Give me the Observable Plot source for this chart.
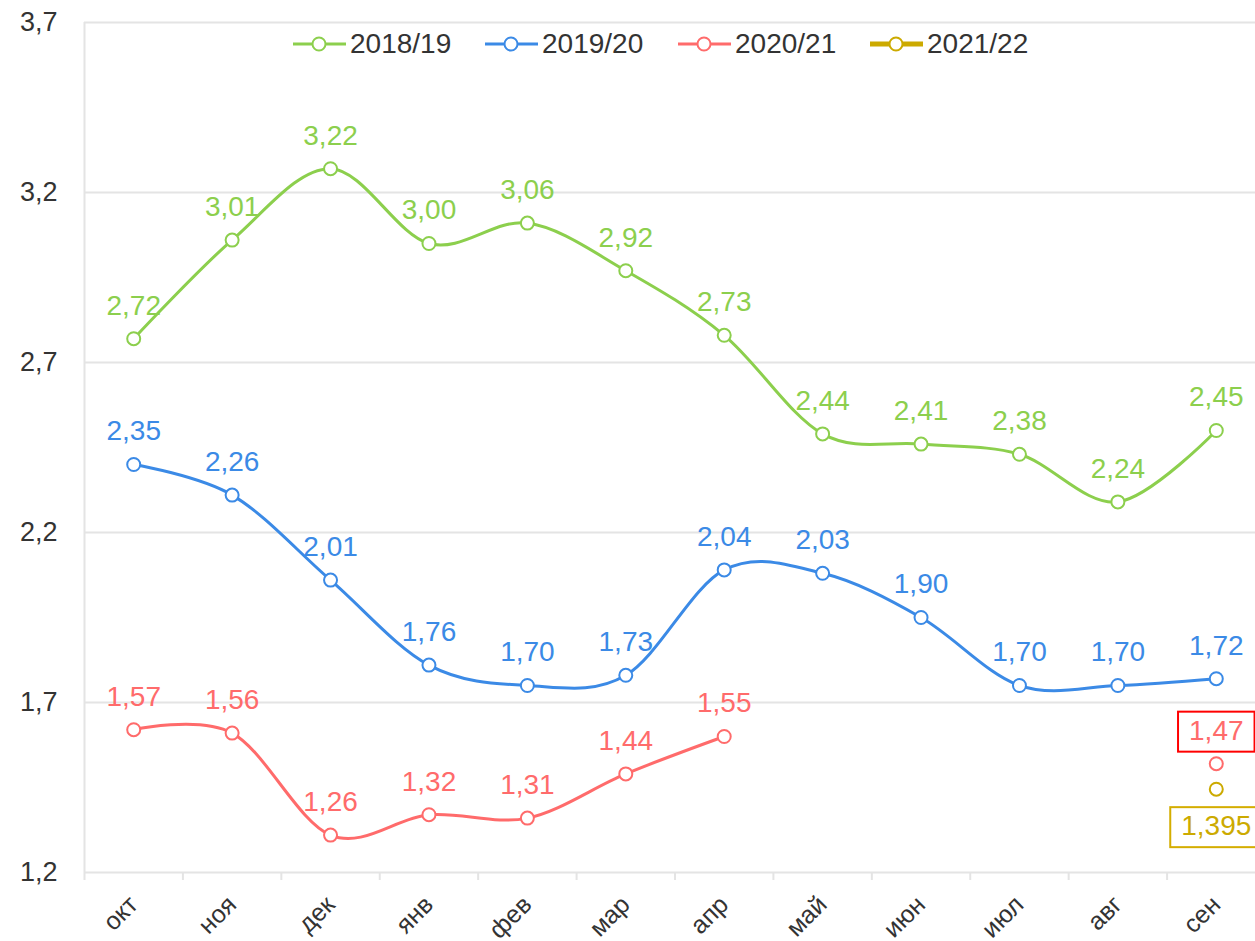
<!DOCTYPE html>
<html>
<head>
<meta charset="utf-8">
<script src="https://cdn.jsdelivr.net/npm/d3@7"></script>
<script src="https://cdn.jsdelivr.net/npm/@observablehq/plot@0.6"></script>
<style>
html, body { margin: 0; padding: 0; background: #fff; overflow: hidden; }
#wrap { position: relative; width: 1255px; height: 941px; }
.leg { position: absolute; top: 29px; display: flex; align-items: center; font-family: "Liberation Sans", Arial, sans-serif; font-size: 28px; color: #333; line-height: 30px; }
.leg svg { display: block; margin-right: 4px; }
</style>
</head>
<body>
<div id="wrap"></div>
<script>
// ---- data ----
const months = ["окт","ноя","дек","янв","фев","мар","апр","май","июн","июл","авг","сен"];
const seriesNames = ["2018/19","2019/20","2020/21","2021/22"];
const seriesColors = ["#8ccf4d","#3b8ae6","#ff6b6b","#ccaa00"];
const v1819 = [2.72,3.01,3.22,3.00,3.06,2.92,2.73,2.44,2.41,2.38,2.24,2.45];
const v1920 = [2.35,2.26,2.01,1.76,1.70,1.73,2.04,2.03,1.90,1.70,1.70,1.72];
const v2021 = [1.57,1.56,1.26,1.32,1.31,1.44,1.55,null,null,null,null,1.47];
const v2122 = [null,null,null,null,null,null,null,null,null,null,null,1.395];
const yTicks = [1.15,1.65,2.15,2.65,3.15,3.65];
const yTickLabels = ["1,2","1,7","2,2","2,7","3,2","3,7"];
const boxedMonth = "сен";
const boxedSeries = ["2020/21","2021/22"];
const boxColors = ["#ff0000","#d4ad00"];

const allSeries = [v1819, v1920, v2021, v2122];
const rows = [];
allSeries.forEach((vals, si) => {
  vals.forEach((v, mi) => rows.push({series: seriesNames[si], month: months[mi], value: v}));
});
const pts = rows.filter(d => d.value != null);
const isBoxed = d => d.month === boxedMonth && boxedSeries.includes(d.series);
const fmt = d => {
  const s = String(d.value);
  const dec = (s.split(".")[1] || "").length;
  return d.value.toFixed(Math.max(2, dec)).replace(".", ",");
};

const W = 1255, H = 941;
const xRange = [84, 1265];
const bw = (xRange[1] - xRange[0]) / months.length;
const grid = "#e4e4e4";

const chart = Plot.plot({
  width: W, height: H,
  marginLeft: 84, marginRight: 0, marginTop: 22, marginBottom: 69,
  style: { fontFamily: "'Liberation Sans', Arial, sans-serif", background: "white", overflow: "hidden" },
  x: { type: "band", domain: months, range: xRange, padding: 0, round: false },
  y: { domain: [1.15, 3.65] },
  color: { domain: seriesNames, range: seriesColors },
  marks: [
    Plot.ruleY(yTicks, { stroke: grid, strokeWidth: 2 }),
    Plot.ruleX([months[0]], { x: d => d, dx: -bw / 2, stroke: grid, strokeWidth: 2, insetBottom: -8 }),
    Plot.ruleX(months.slice(1), { x: d => d, dx: -bw / 2, stroke: grid, strokeWidth: 2, insetTop: 850, insetBottom: -8 }),
    Plot.axisY(yTicks, { tickSize: 0, tickPadding: 27, fontSize: 27, fill: "#333", label: null,
      tickFormat: d => yTickLabels[yTicks.findIndex(t => Math.abs(t - d) < 1e-9)] }),
    Plot.axisX({ tickSize: 0, tickRotate: -45, tickPadding: 28, fontSize: 25, fill: "#333", label: null }),
    Plot.line(rows, { x: "month", y: "value", z: "series", stroke: "series", strokeWidth: 3, curve: "cardinal" }),
    Plot.dot(pts, { x: "month", y: "value", r: 6.5, fill: "white", stroke: "series", strokeWidth: 2 }),
    Plot.text(pts.filter(d => !isBoxed(d)), { x: "month", y: "value", text: fmt, fill: "series", dy: -33, fontSize: 28 }),
    Plot.text(pts.filter(d => isBoxed(d) && d.series === boxedSeries[0]), { x: "month", y: "value", text: fmt, fill: "series", dy: -33, fontSize: 28 }),
    Plot.text(pts.filter(d => isBoxed(d) && d.series === boxedSeries[1]), { x: "month", y: "value", text: fmt, fill: "series", dy: 37, fontSize: 28 })
  ]
});

const wrap = document.getElementById("wrap");
wrap.appendChild(chart);

// boxes around the highlighted labels (2nd and 3rd text marks)
const textGroups = chart.querySelectorAll('g[aria-label="text"]');
[1, 2].forEach((gi, i) => {
  const g = textGroups[gi];
  if (!g) return;
  g.querySelectorAll("text").forEach(t => {
    const b = t.getBBox();
    const tr = t.getAttribute("transform");
    const r = document.createElementNS("http://www.w3.org/2000/svg", "rect");
    r.setAttribute("x", b.x - 11);
    r.setAttribute("y", b.y - 3);
    r.setAttribute("width", b.width + 22);
    r.setAttribute("height", b.height + 9);
    r.setAttribute("fill", "white");
    r.setAttribute("stroke", boxColors[i]);
    r.setAttribute("stroke-width", 2);
    if (tr) r.setAttribute("transform", tr);
    t.parentNode.insertBefore(r, t);
  });
});

// legend overlay
const legLeft = [293, 485, 678, 870];
seriesNames.forEach((name, i) => {
  const d = document.createElement("div");
  d.className = "leg";
  d.style.left = legLeft[i] + "px";
  const sw = i === 3 ? 5 : 3;
  d.innerHTML = `<svg width="53" height="30"><line x1="0" x2="53" y1="15" y2="15" stroke="${seriesColors[i]}" stroke-width="${sw}"/><circle cx="26" cy="15" r="6.5" fill="white" stroke="${seriesColors[i]}" stroke-width="2"/></svg><span>${name}</span>`;
  wrap.appendChild(d);
});
</script>
</body>
</html>
